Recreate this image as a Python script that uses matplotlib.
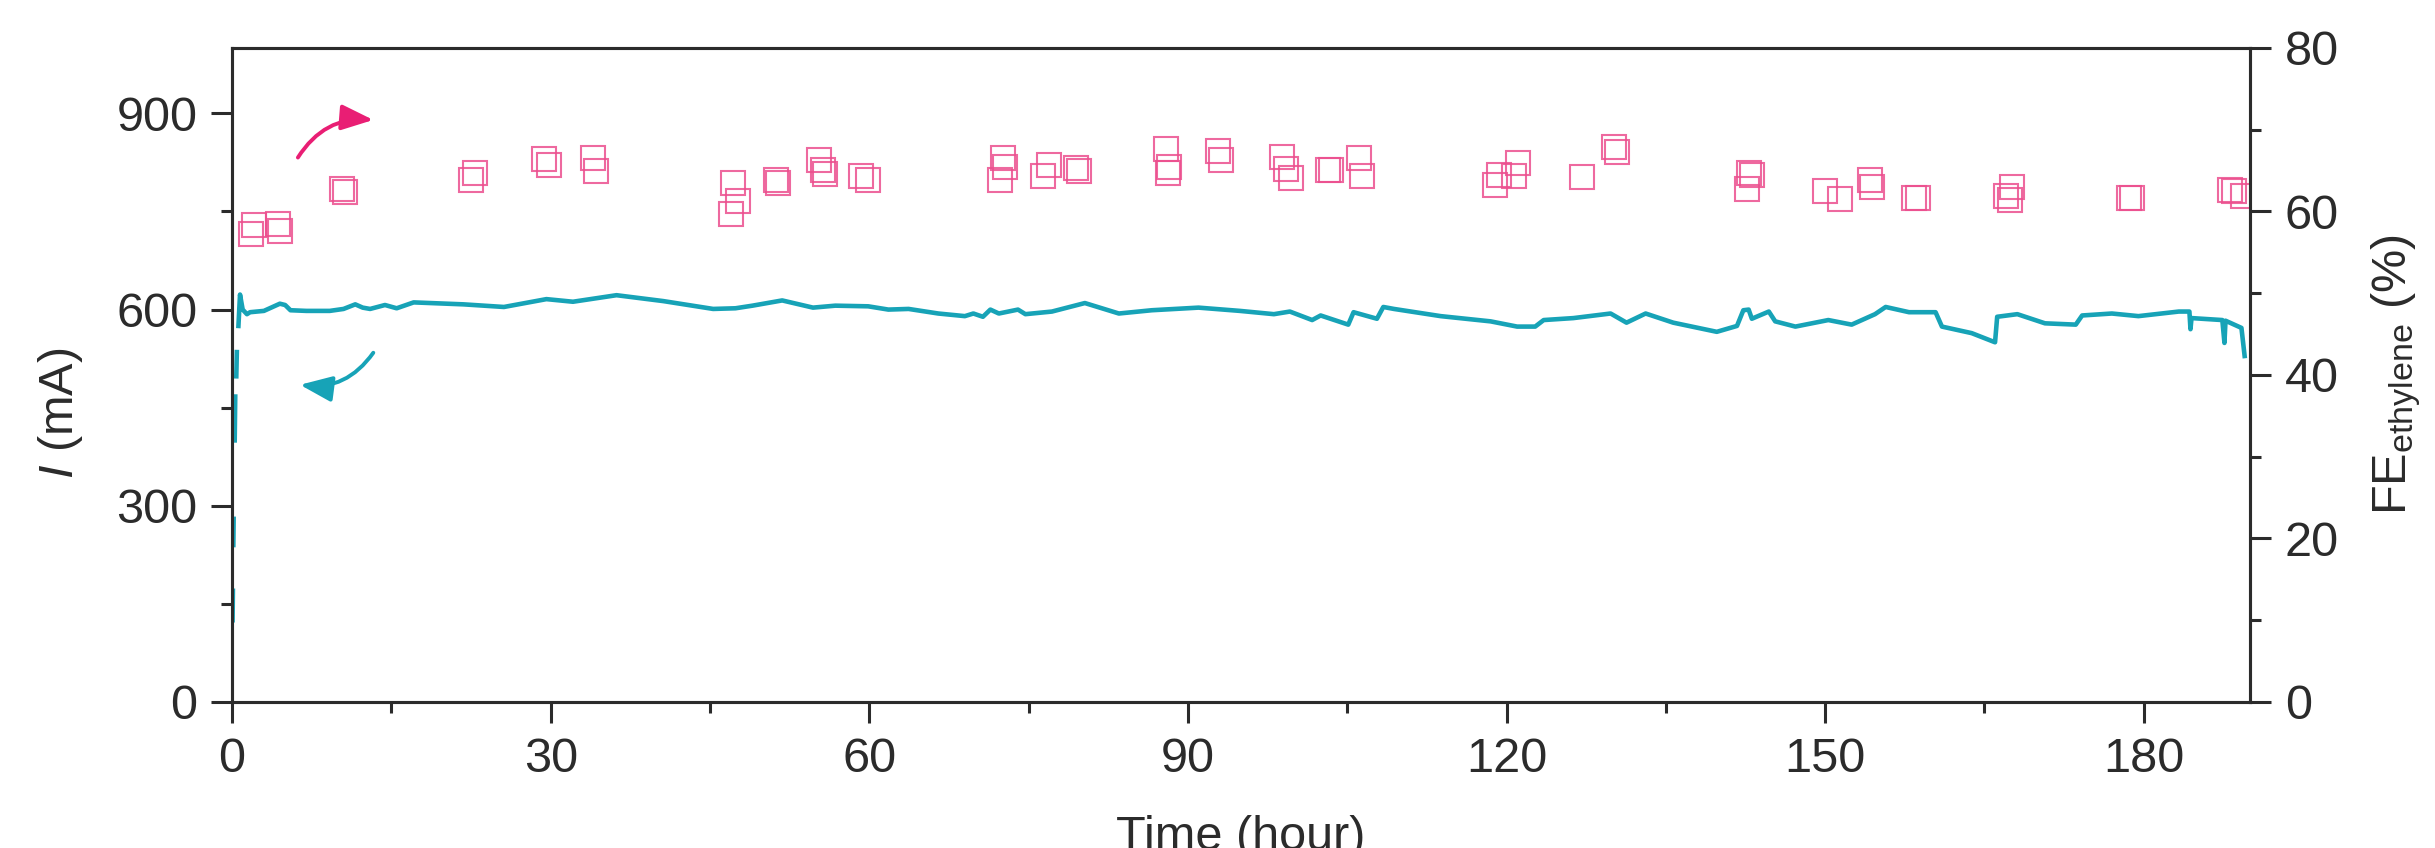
import numpy as np
import matplotlib
matplotlib.use("Agg")
import matplotlib.pyplot as plt
from matplotlib.ticker import MultipleLocator

plt.rcParams['font.family'] = ['Liberation Sans', 'DejaVu Sans']
plt.rcParams['mathtext.fontset'] = 'custom'
plt.rcParams['mathtext.rm'] = 'Liberation Sans'
plt.rcParams['mathtext.it'] = 'Liberation Sans:italic'

# current trace (hour, mA); nan marks the gaps in the steep start-up rise
time_h = [0.05, 0.08, np.nan, 0.12, 0.15, np.nan, 0.25, 0.3, np.nan, 0.4, 0.45, np.nan,
          0.6, 0.75, 1.0, 1.4, 1.7, 3.0, 4.5, 5.0, 5.5, 7.0, 9.2, 10.5, 11.6, 12.3, 13.0,
          14.4, 15.5, 17.1, 21.8, 25.6, 29.6, 32.1, 36.2, 40.6, 45.3, 47.4, 49.0, 51.8,
          54.7, 56.8, 59.9, 61.8, 63.7, 66.5, 69.0, 69.8, 70.7, 71.4, 72.2, 74.0, 74.7,
          77.2, 80.3, 83.5, 86.6, 91.0, 94.9, 98.1, 99.6, 101.7, 102.5, 105.1, 105.6,
          107.8, 108.4, 109.4, 113.8, 118.5, 121.0, 122.7, 123.5, 126.3, 129.8, 131.3,
          133.1, 135.7, 139.8, 141.7, 142.3, 142.8, 143.1, 144.7, 145.3, 147.2, 150.3,
          152.5, 154.7, 155.7, 157.9, 160.4, 161.0, 163.8, 166.0, 166.2, 168.1, 170.7,
          173.6, 174.2, 177.0, 179.5, 183.3, 184.3, 184.4, 184.5, 187.4, 187.6, 187.7,
          189.2, 189.5]
current_ma = [125, 170, np.nan, 240, 280, np.nan, 400, 467, np.nan, 498, 535, np.nan,
              575, 623, 600, 593, 596, 598, 609, 607, 599, 598, 598, 601, 608, 603, 601,
              607, 602, 611, 608, 604, 616, 612, 622, 613, 601, 602, 606, 614,
              603, 606, 605, 600, 601, 594, 590, 594, 589, 600, 594, 600, 593,
              597, 610, 594, 599, 603, 598, 593, 597, 584, 591, 577, 596,
              586, 604, 601, 590, 582, 574, 574, 584, 587, 594, 580,
              594, 580, 566, 575, 599, 600, 586, 597, 582, 574, 584,
              577, 593, 604, 596, 596, 574, 564, 550, 589, 593, 579,
              577, 591, 594, 590, 597, 597, 570, 587, 584, 549, 583,
              572, 529]

# ethylene faradaic efficiency points (hour, %)
time_fe = [1.76, 2.04, 4.33, 4.52, 10.36, 10.64, 22.5, 22.9, 29.4, 29.8, 34.0, 34.3,
           46.96, 47.2, 47.6, 51.2, 51.4, 55.3, 55.6, 55.8, 59.2, 59.9, 72.3, 72.6, 72.8,
           76.4, 76.9, 79.5, 79.7, 87.9, 88.1, 88.2, 92.8, 93.1, 98.9, 99.2, 99.7, 103.2,
           103.5, 106.1, 106.4, 118.9, 119.3, 120.7, 121.1, 127.1, 130.1, 130.4, 142.6,
           142.8, 143.1, 150.0, 151.4, 154.2, 154.4, 158.4, 158.7, 167.0, 167.4, 167.6,
           178.6, 178.9, 188.1, 188.5, 189.3]
fe_ethylene = [57.2, 58.4, 58.5, 57.6, 62.8, 62.4, 63.9, 64.7, 66.4, 65.7, 66.6, 65.0,
               59.7, 63.5, 61.3, 63.9, 63.5, 66.3, 65.1, 64.6, 64.4, 63.8, 63.8, 66.5, 65.5,
               64.4, 65.7, 65.3, 64.9, 67.7, 64.7, 65.5, 67.4, 66.3, 66.7, 65.2, 64.1, 65.1,
               65.1, 66.6, 64.4, 63.2, 64.5, 64.4, 65.9, 64.2, 67.9, 67.3, 62.7,
               64.7, 64.5, 62.5, 61.5, 63.8, 63.0, 61.6, 61.6, 61.9, 61.4, 63.0,
               61.6, 61.6, 62.6, 62.5, 61.9]

teal = '#17a3b7'
pink = '#ec4f8e'
arrow_pink = '#e91e74'
ink = '#2b2b2b'

fig = plt.figure(figsize=(24.35, 8.48), dpi=100)
ax = fig.add_axes([0.0953, 0.1722, 0.9240 - 0.0953, 0.9434 - 0.1722])
ax2 = ax.twinx()

ax.plot(time_h, current_ma, color=teal, lw=3.3, zorder=3)
ax2.plot(time_fe, fe_ethylene, ls='none', marker='s', ms=17.5, mfc='none',
         mec=pink, mew=1.5, alpha=0.85)

ax.set_xlim(0, 190)
ax.set_ylim(0, 1000)
ax2.set_ylim(0, 80)

ax.xaxis.set_major_locator(MultipleLocator(30))
ax.xaxis.set_minor_locator(MultipleLocator(15))
ax.yaxis.set_major_locator(MultipleLocator(300))
ax.yaxis.set_minor_locator(MultipleLocator(150))
ax2.yaxis.set_major_locator(MultipleLocator(20))
ax2.yaxis.set_minor_locator(MultipleLocator(10))

for a in (ax, ax2):
    for s in a.spines.values():
        s.set_linewidth(2.2)
        s.set_color(ink)
    a.tick_params(which='major', length=15, width=2.2, color=ink,
                  labelsize=35, labelcolor=ink, pad=10)
    a.tick_params(which='minor', length=8, width=2.2, color=ink)
ax.tick_params(axis='x', which='both', top=False)
ax.tick_params(axis='y', which='both', right=False)

ax.set_ylabel(r'$\mathit{I}$ (mA)', fontsize=35, color=ink)
ax.yaxis.set_label_coords(-0.073, 0.442)
ax2.set_ylabel(r'FE$_{\mathregular{ethylene}}$ (%)', fontsize=35, color=ink, labelpad=22)
ax.set_xlabel('Time (hour)', fontsize=35, color=ink, labelpad=24)

ax2.annotate('', xy=(13.3, 71.2), xytext=(6.2, 66.6),
             arrowprops=dict(arrowstyle='-|>,head_length=0.65,head_width=0.26',
                             connectionstyle='arc3,rad=-0.3', color=arrow_pink,
                             lw=2.8, mutation_scale=30, shrinkA=0, shrinkB=0))
ax.annotate('', xy=(6.4, 485), xytext=(13.3, 534),
            arrowprops=dict(arrowstyle='-|>,head_length=0.65,head_width=0.26',
                            connectionstyle='arc3,rad=-0.3', color=teal,
                            lw=2.8, mutation_scale=30, shrinkA=0, shrinkB=0))

fig.savefig('out.png', dpi=100)
